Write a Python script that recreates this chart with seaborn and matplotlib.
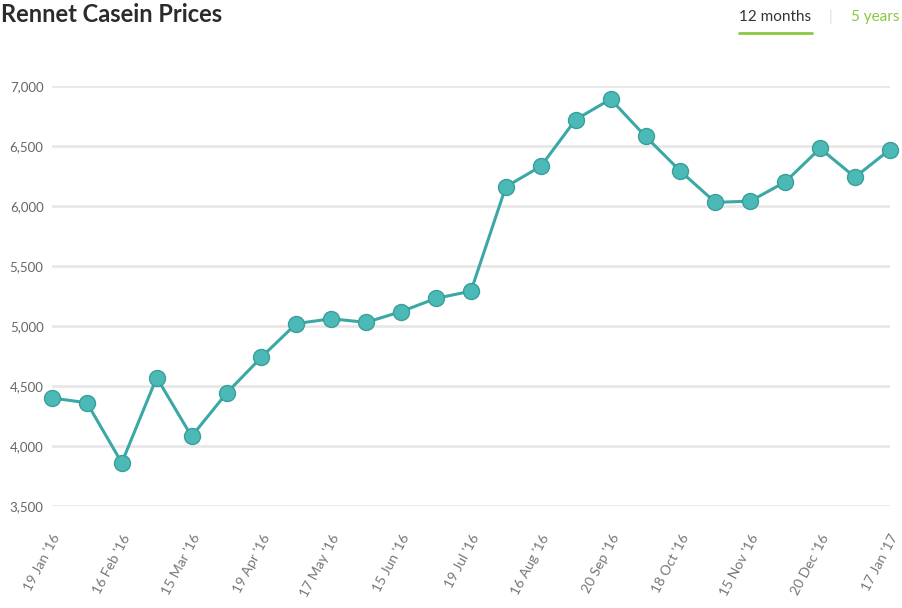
import numpy as np
import pandas as pd
import matplotlib
matplotlib.use("Agg")
import matplotlib.pyplot as plt
import seaborn as sns

# auction dates (every other one gets a tick label)
dates = ["19 Jan '16", "2 Feb '16", "16 Feb '16", "1 Mar '16", "15 Mar '16",
         "5 Apr '16", "19 Apr '16", "3 May '16", "17 May '16", "1 Jun '16",
         "15 Jun '16", "5 Jul '16", "19 Jul '16", "2 Aug '16", "16 Aug '16",
         "6 Sep '16", "20 Sep '16", "4 Oct '16", "18 Oct '16", "1 Nov '16",
         "15 Nov '16", "6 Dec '16", "20 Dec '16", "3 Jan '17", "17 Jan '17"]
prices = [4400, 4360, 3860, 4570, 4080, 4440, 4740, 5020, 5060, 5030,
          5120, 5230, 5290, 6160, 6330, 6720, 6890, 6580, 6290, 6030,
          6040, 6200, 6480, 6240, 6470]
y_ticks = [3500, 4000, 4500, 5000, 5500, 6000, 6500, 7000]

df = pd.DataFrame({"idx": range(len(dates)), "date": dates, "price": prices})

sns.set_style("white")
plt.rcParams['font.family'] = ['Lato', 'DejaVu Sans']

fig = plt.figure(figsize=(9.02, 6.08), dpi=100)
ax = fig.add_axes([0.0576, 0.1678, 0.929, 0.6908])

for t in y_ticks:
    ax.axhline(t, color="#e8e8e8", lw=2, zorder=0)

sns.lineplot(data=df, x="idx", y="price", ax=ax, color="#3aa8a5", lw=2.2,
             marker="o", markersize=11.5, markerfacecolor="#4bb9b6",
             markeredgecolor="#3a9e9b", markeredgewidth=1, clip_on=False)

ax.set_xlim(0, len(dates) - 1)
ax.set_ylim(3500, 7000)
ax.set_yticks(y_ticks)
ax.set_yticklabels([f"{t:,}" for t in y_ticks], color="#666666", fontsize=9.5)
ax.set_xticks(df["idx"][::2])
ax.set_xticklabels(df["date"][::2], rotation=62, ha="right",
                   rotation_mode="anchor", color="#777777", fontsize=10)
ax.tick_params(axis="y", length=0, pad=6)
ax.tick_params(axis="x", length=0, pad=19)
ax.set_xlabel("")
ax.set_ylabel("")
for s in ax.spines.values():
    s.set_visible(False)

fig.text(0.001, 0.976, "Rennet Casein Prices", fontsize=17, fontweight="bold",
         color="#2b2b2b", ha="left", va="center")
fig.text(0.819, 0.972, "12 months", fontsize=11, color="#333333", ha="left", va="center")
fig.text(0.921, 0.972, "|", fontsize=11, color="#dddddd", ha="center", va="center")
fig.text(0.9435, 0.972, "5 years", fontsize=11, color="#8cc63f", ha="left", va="center")
fig.add_artist(plt.Line2D([0.819, 0.9], [0.946, 0.946], color="#8cc63f", lw=2))

fig.savefig("out.png", dpi=100)
